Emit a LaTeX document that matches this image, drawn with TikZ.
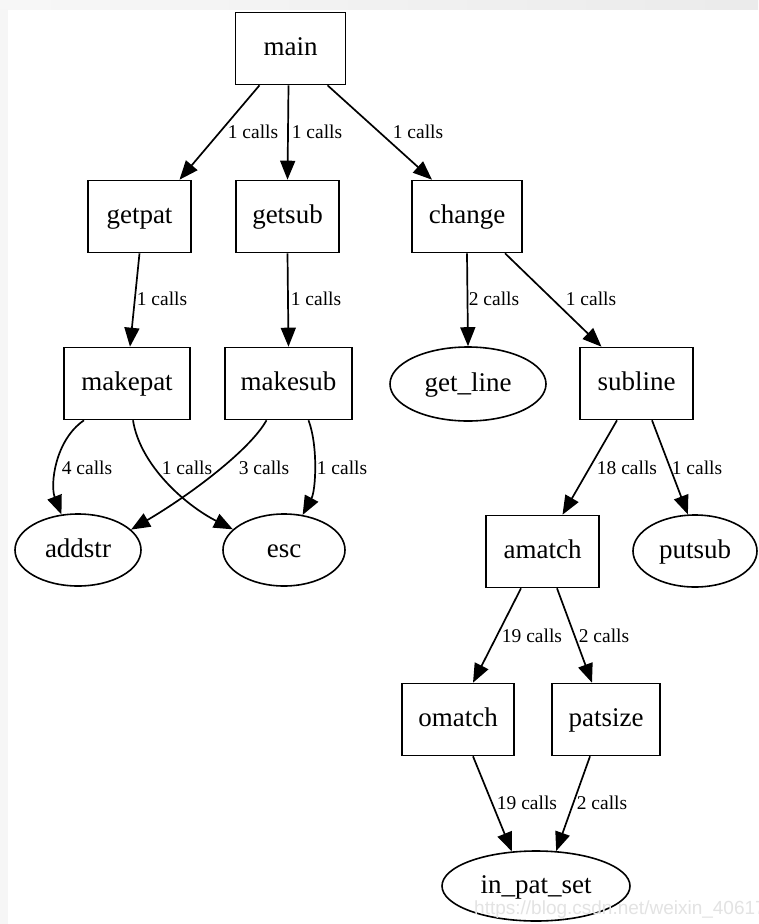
\documentclass[tikz,border=0pt]{standalone}
\usepackage{fontspec}
\setmainfont{Liberation Serif}
\usetikzlibrary{arrows.meta,shapes.geometric}

\tikzset{
  boxnode/.style={draw, line width=1.6pt, rectangle, inner sep=0pt,
    minimum height=72pt, text height=20pt, text depth=6pt,
    font=\fontsize{27}{27}\selectfont},
  ellnode/.style={draw, line width=1.6pt, ellipse, inner sep=0pt,
    text height=20pt, text depth=6pt,
    font=\fontsize{27}{27}\selectfont},
  call/.style={draw, line width=1.7pt, -{Triangle[length=19pt,width=15pt]}},
  calllabel/.style={inner sep=0pt, text height=15pt, text depth=3pt,
    font=\fontsize{19.5}{20}\selectfont},
}

\begin{document}
\begin{tikzpicture}[x=1pt, y=-1pt]
  \useasboundingbox (0,0) rectangle (758,924);
  \fill[white] (0,0) rectangle (758,924);
  % frame bands at the top and left edge
  \shade[left color=gray!6, right color=gray!16] (0,0) rectangle (758,9);
  \fill[gray!7] (0,9) rectangle (8,924);

  % functions
  \node[boxnode, minimum width=110pt] (main)    at (290.5,48.5) {main};
  \node[boxnode, minimum width=103pt] (getpat)  at (139.5,216.5) {getpat};
  \node[boxnode, minimum width=103pt] (getsub)  at (287.5,216.5) {getsub};
  \node[boxnode, minimum width=110pt] (change)  at (467,216.5) {change};
  \node[boxnode, minimum width=126pt] (makepat) at (127,383.5) {makepat};
  \node[boxnode, minimum width=127pt] (makesub) at (288.5,383.5) {makesub};
  \node[ellnode, minimum width=156pt, minimum height=74pt] (getline) at (468,384) {get\_line};
  \node[boxnode, minimum width=113pt] (subline) at (636.5,383.5) {subline};
  \node[ellnode, minimum width=126pt, minimum height=72pt] (addstr) at (78,550) {addstr};
  \node[ellnode, minimum width=122pt, minimum height=72pt] (esc) at (284,550) {esc};
  \node[boxnode, minimum width=113pt] (amatch)  at (542.5,551.5) {amatch};
  \node[ellnode, minimum width=124pt, minimum height=72pt] (putsub) at (695,551) {putsub};
  \node[boxnode, minimum width=112pt] (omatch)  at (458,719.5) {omatch};
  \node[boxnode, minimum width=108pt] (patsize) at (606,719.5) {patsize};
  \node[ellnode, minimum width=188pt, minimum height=70pt] (inpatset) at (536,886) {in\_pat\_set};

  % calls
  \draw[call] ([xshift=-31pt]main.south) -- ([xshift=40pt]getpat.north);
  \draw[call] ([xshift=-2pt]main.south) -- ([xshift=0pt]getsub.north);
  \draw[call] ([xshift=37pt]main.south) -- ([xshift=-35pt]change.north);
  \draw[call] (getpat.south) -- ([xshift=3pt]makepat.north);
  \draw[call] (getsub.south) -- (makesub.north);
  \draw[call] (change.south) -- (getline.north);
  \draw[call] ([xshift=38pt]change.south) -- ([xshift=-35pt]subline.north);
  \draw[call] ([xshift=-43pt]makepat.south) .. controls (55,440) and (50,485) .. (addstr.115);
  \draw[call] ([xshift=6pt]makepat.south) .. controls (140,465) and (185,505) .. (esc.158);
  \draw[call] ([xshift=-22pt]makesub.south) .. controls (250,450) and (190,495) .. (addstr.21);
  \draw[call] ([xshift=20pt]makesub.south) .. controls (318,445) and (316,490) .. (esc.62);
  \draw[call] ([xshift=-19.5pt]subline.south) -- ([xshift=20pt]amatch.north);
  \draw[call] ([xshift=15.5pt]subline.south) -- (putsub.101);
  \draw[call] ([xshift=-21.5pt]amatch.south) -- ([xshift=15pt]omatch.north);
  \draw[call] ([xshift=14.5pt]amatch.south) -- ([xshift=-14pt]patsize.north);
  \draw[call] ([xshift=15pt]omatch.south) -- (inpatset.125);
  \draw[call] ([xshift=-16pt]patsize.south) -- (inpatset.60);

  % call counts
  \node[calllabel] (l1)  at (253,132) {1 calls};
  \node[calllabel] (l2)  at (317,132) {1 calls};
  \node[calllabel] (l3)  at (418,132) {1 calls};
  \node[calllabel] (l4)  at (162,299) {1 calls};
  \node[calllabel] (l5)  at (316,299) {1 calls};
  \node[calllabel] (l6)  at (494,299) {2 calls};
  \node[calllabel] (l7)  at (591,299) {1 calls};
  \node[calllabel] (l8)  at (87,468)  {4 calls};
  \node[calllabel] (l9)  at (187,468) {1 calls};
  \node[calllabel] (l10) at (264,468) {3 calls};
  \node[calllabel] (l11) at (342,468) {1 calls};
  \node[calllabel] (l12) at (627,468) {18 calls};
  \node[calllabel] (l13) at (697,468) {1 calls};
  \node[calllabel] (l14) at (532,636) {19 calls};
  \node[calllabel] (l15) at (604,636) {2 calls};
  \node[calllabel] (l16) at (527,803) {19 calls};
  \node[calllabel] (l17) at (602,803) {2 calls};

  % source address stamped over the corner
  \node[anchor=west, inner sep=0pt, text=gray!22,
        font={\fontspec{Liberation Sans}\fontsize{19}{19}\selectfont}] (stamp)
        at (474,910) {https://blog.csdn.net/weixin\_40617103};
\end{tikzpicture}
\end{document}
